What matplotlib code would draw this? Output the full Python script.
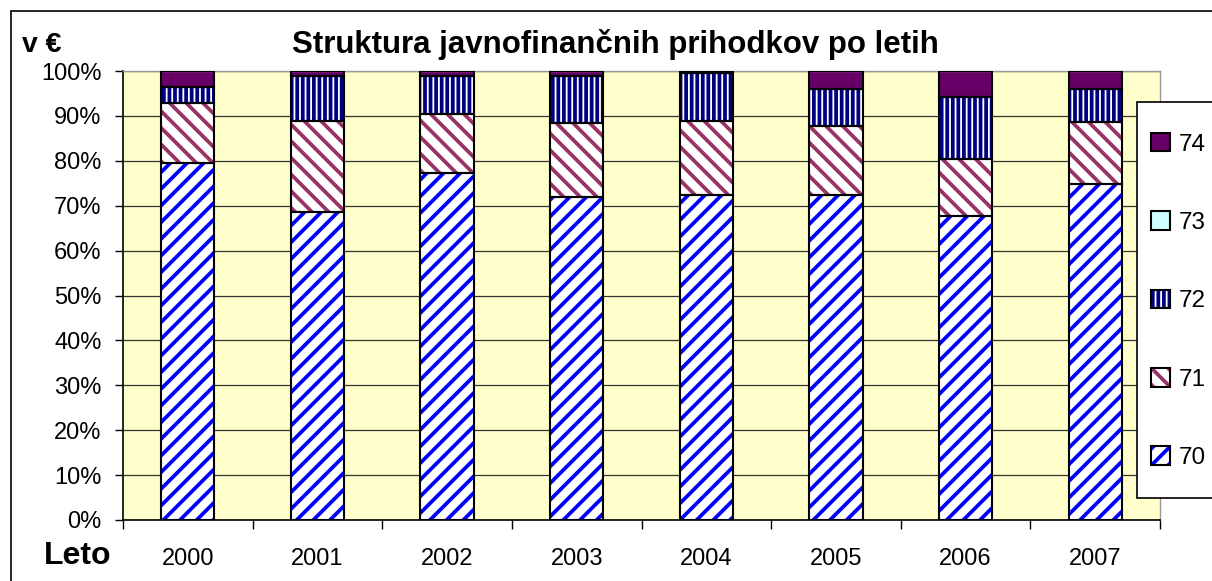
import matplotlib.pyplot as plt
import numpy as np
from matplotlib.patches import Rectangle
from matplotlib.ticker import PercentFormatter, MultipleLocator

plt.rcParams['font.family'] = ['Liberation Sans', 'DejaVu Sans']
plt.rcParams['hatch.linewidth'] = 2.7

# shares per year (in %)
years = ['2000', '2001', '2002', '2003', '2004', '2005', '2006', '2007']
s70 = [79.6, 68.7, 77.2, 72.0, 72.4, 72.4, 67.6, 74.9]
s71 = [13.2, 20.2, 13.2, 16.5, 16.5, 15.4, 12.8, 13.7]
s72 = [3.7, 10.0, 8.5, 10.4, 10.7, 8.1, 13.7, 7.4]
s73 = [0.0, 0.0, 0.0, 0.0, 0.0, 0.0, 0.0, 0.0]
s74 = [3.5, 1.1, 1.1, 1.1, 0.4, 4.1, 5.9, 4.0]
labels = ['70', '71', '72', '73', '74']

series = [s70, s71, s72, s73, s74]
# (fill colour, hatch colour, hatch)
styles = [
    ('white', '#0000FF', '//'),
    ('white', '#993366', '\\\\'),
    ('white', '#000080', '|||'),
    ('#CCFFFF', None, None),
    ('#660066', None, None),
]

W, H, DPI = 1212, 581, 100
fig = plt.figure(figsize=(W / DPI, H / DPI), dpi=DPI)
fig.patch.set_facecolor('white')

ax = fig.add_axes([123 / W, 1 - 520 / H, (1160 - 123) / W, (520 - 71) / H])
ax.set_facecolor('#FFFFCC')

x = np.arange(len(years))
width = 0.41
data = np.array(series, dtype=float)
data = data / data.sum(axis=0) * 100
bottom = np.zeros(len(years))
handles = []
for vals, (fc, hc, hatch) in zip(data, styles):
    if hatch:
        hb = ax.bar(x, vals, width, bottom=bottom, color=fc, edgecolor=hc,
                    linewidth=0, hatch=hatch, zorder=2)
    else:
        hb = ax.bar(x, vals, width, bottom=bottom, color=fc, linewidth=0, zorder=2)
    eb = ax.bar(x, vals, width, bottom=bottom, fill=False, edgecolor='black',
                linewidth=1.5, zorder=3)
    handles.append((hb, eb))
    bottom += vals

ax.set_xlim(-0.5, len(years) - 0.5)
ax.set_ylim(0, 100)
ax.yaxis.set_major_locator(MultipleLocator(10))
ax.yaxis.set_major_formatter(PercentFormatter(xmax=100, decimals=0))
ax.yaxis.grid(True, color='#333333', linewidth=0.9)
ax.set_axisbelow(True)

ax.set_xticks(x)
ax.set_xticklabels(years)
ax.set_xticks(np.arange(-0.5, len(years), 1), minor=True)
ax.tick_params(axis='x', which='major', length=0, pad=20, labelsize=17)
ax.tick_params(axis='x', which='minor', length=6.5, width=1, direction='out')
ax.tick_params(axis='y', length=5.8, width=1, pad=9.6, labelsize=17)

for side in ['left', 'bottom']:
    ax.spines[side].set_color('black')
    ax.spines[side].set_linewidth(1.2)
for side in ['top', 'right']:
    ax.spines[side].set_color('#999999')
    ax.spines[side].set_linewidth(1)

# outer chart border
fig.patches.append(Rectangle((11 / W, -0.1), 2, 1 - 11 / H + 0.1, fill=False,
                             edgecolor='black', linewidth=1.2,
                             transform=fig.transFigure, clip_on=False))

fig.text(615 / W, 1 - 45 / H, 'Struktura javnofinančnih prihodkov po letih',
         ha='center', va='center', fontsize=22.5, fontweight='bold')
fig.text(22 / W, 1 - 45 / H, 'v €', ha='left', va='center',
         fontsize=20.4, fontweight='bold')
fig.text(78 / W, 1 - 556 / H, 'Leto', ha='center', va='center',
         fontsize=23, fontweight='bold')

# legend box (runs off the right edge)
fig.patches.append(Rectangle((1137 / W, 1 - 498 / H), 0.2, (498 - 102) / H,
                             facecolor='white', edgecolor='black', linewidth=1.2,
                             transform=fig.transFigure, zorder=3))
fig.legend(handles[::-1], labels[::-1], loc='center left',
           bbox_to_anchor=(1151 / W, 1 - 301 / H), frameon=False,
           fontsize=17.5, labelspacing=2.29, handlelength=0.8, handleheight=0.8,
           handletextpad=0.35, borderpad=0, borderaxespad=0)

fig.savefig('out.png', dpi=DPI)
